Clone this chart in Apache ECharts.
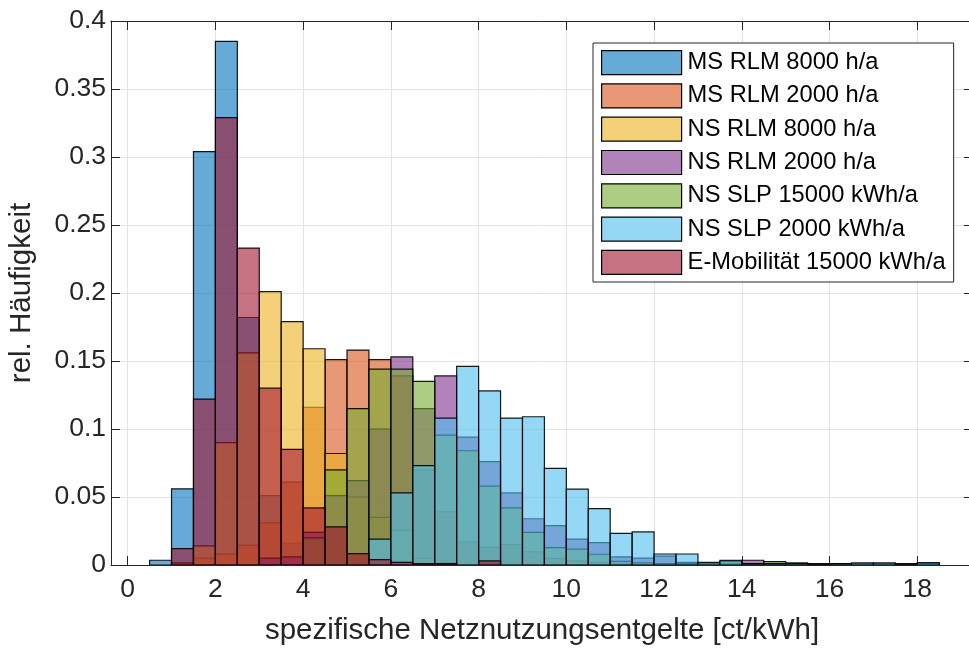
<!DOCTYPE html>
<html>
<head>
<meta charset="utf-8">
<script src="https://cdn.jsdelivr.net/npm/echarts@6/dist/echarts.min.js"></script>
<style>html,body{margin:0;padding:0;background:#fff;}#c{width:969px;height:648px;}</style>
</head>
<body>
<div id="c"></div>
<script>
// bin left edges (bin width 0.5 ct/kWh)
const binStarts = [0.5,1.0,1.5,2.0,2.5,3.0,3.5,4.0,4.5,5.0,5.5,6.0,6.5,7.0,7.5,8.0,8.5,9.0,9.5,10.0,10.5,11.0,11.5,12.0,12.5,13.0,13.5,14.0,14.5,15.0,15.5,16.0,16.5,17.0,17.5,18.0];
const binWidth = 0.5;
const xTicks = [0,2,4,6,8,10,12,14,16,18];

const seriesNames = ['MS RLM 8000 h/a','MS RLM 2000 h/a','NS RLM 8000 h/a','NS RLM 2000 h/a','NS SLP 15000 kWh/a','NS SLP 2000 kWh/a','E-Mobilität 15000 kWh/a'];

const msRlm8000 = [0.0035,0.056,0.304,0.385,0.182,0.051,0.016,0.002,0,0,0,0,0,0,0,0,0,0,0,0,0,0,0,0,0,0,0.001,0,0,0,0,0,0,0,0,0.0015];
const msRlm2000 = [0,0.0015,0.005,0.008,0.0145,0.031,0.061,0.116,0.151,0.158,0.151,0.139,0.07,0.039,0.017,0.013,0.015,0.0096,0.0047,0.003,0.002,0.001,0,0,0,0,0,0,0,0,0,0,0,0,0,0];
const nsRlm8000 = [0,0,0.014,0.090,0.156,0.201,0.179,0.159,0.082,0.050,0.035,0.0255,0.005,0.002,0,0,0,0,0,0,0,0,0,0,0,0,0,0,0,0,0,0,0,0,0,0];
const nsRlm2000 = [0,0,0,0,0,0.005,0.006,0.024,0.051,0.062,0.100,0.153,0.115,0.139,0.094,0.076,0.053,0.034,0.029,0.019,0.0165,0.006,0.005,0.0065,0.002,0.001,0.001,0.0035,0.001,0,0,0,0,0,0,0];
const nsSlp15000 = [0,0,0,0,0,0,0,0.020,0.070,0.115,0.144,0.144,0.135,0.0955,0.084,0.058,0.042,0.024,0.0128,0.0116,0.0079,0.0027,0.0015,0.001,0.001,0.001,0.0025,0.001,0.0025,0.0015,0.001,0.001,0.001,0.001,0.001,0];
const nsSlp2000 = [0,0,0,0,0,0,0,0,0,0,0.019,0.053,0.073,0.108,0.146,0.128,0.108,0.109,0.071,0.0558,0.0415,0.0233,0.0243,0.0081,0.0081,0.002,0.0034,0.001,0.001,0.001,0.0005,0.001,0.0015,0.0015,0.0005,0.0015];
const eMob15000 = [0,0.012,0.122,0.329,0.233,0.130,0.085,0.042,0.028,0.0084,0.004,0.002,0.001,0.001,0,0.003,0,0,0,0,0,0,0,0,0,0,0,0,0,0,0,0,0,0,0,0];

const seriesValues = [msRlm8000, msRlm2000, nsRlm8000, nsRlm2000, nsSlp15000, nsSlp2000, eMob15000];
const baseColors = [[0,114,189],[217,83,25],[237,177,32],[126,47,142],[119,172,48],[77,190,238],[162,20,47]];
const alpha = 0.6;

const textColor = '#262626';
const fontFam = '"Liberation Sans", Arial, Helvetica, sans-serif';
const chart = echarts.init(document.getElementById('c'));

function histSeries(name, values, rgb) {
  const fill = 'rgba(' + rgb.join(',') + ',' + alpha + ')';
  return {
    type: 'custom',
    name: name,
    xAxisIndex: 0,
    yAxisIndex: 0,
    clip: true,
    itemStyle: { color: fill, borderColor: '#000', borderWidth: 1 },
    encode: { x: [0, 1], y: 2 },
    data: values.map((v, i) => [binStarts[i], binStarts[i] + binWidth, v]),
    renderItem: function (params, api) {
      const v = api.value(2);
      if (!v) return null;
      const p0 = api.coord([api.value(0), v]);
      const p1 = api.coord([api.value(1), 0]);
      return {
        type: 'rect',
        shape: { x: p0[0], y: p0[1], width: p1[0] - p0[0], height: p1[1] - p0[1] },
        style: { fill: fill, stroke: 'rgba(0,0,0,0.9)', lineWidth: 1.2 }
      };
    }
  };
}

const series = seriesNames.map((n, i) => histSeries(n, seriesValues[i], baseColors[i]));

const gridLineColor = '#e3e3e3';
const axisLineStyle = { color: textColor, width: 1 };
const xMin = -0.38, xMax = 19.27;

chart.setOption({
  animation: false,
  backgroundColor: '#fff',
  grid: { left: 111, top: 21, width: 862, height: 544, containLabel: false, outerBoundsMode: 'none' },
  legend: {
    orient: 'vertical',
    left: 593,
    top: 43,
    padding: [7, 8, 7, 8],
    itemGap: 8.1,
    itemWidth: 80,
    itemHeight: 24,
    icon: 'rect',
    backgroundColor: '#fff',
    borderColor: textColor,
    borderWidth: 1,
    textStyle: { fontFamily: fontFam, fontSize: 23.7, lineHeight: 24, color: '#000', padding: [0, 0, 0, 1] },
    data: seriesNames.map((n, i) => ({ name: n, itemStyle: { color: 'rgba(' + baseColors[i].join(',') + ',' + alpha + ')', borderColor: '#000', borderWidth: 1.2 } }))
  },
  xAxis: [
    {
      type: 'value', min: xMin, max: xMax,
      position: 'bottom',
      name: 'spezifische Netznutzungsentgelte [ct/kWh]',
      nameLocation: 'middle', nameGap: 51,
      nameTextStyle: { fontFamily: fontFam, fontSize: 29.5, color: textColor },
      axisLine: { show: true, onZero: false, lineStyle: axisLineStyle },
      axisTick: { show: true, inside: true, length: 9, customValues: xTicks, lineStyle: axisLineStyle },
      axisLabel: { customValues: xTicks, fontFamily: fontFam, fontSize: 26.5, color: textColor, margin: 11 },
      splitLine: { show: true, lineStyle: { color: gridLineColor, width: 1 } }
    },
    {
      type: 'value', min: xMin, max: xMax,
      position: 'top',
      axisLine: { show: true, onZero: false, lineStyle: axisLineStyle },
      axisTick: { show: true, inside: true, length: 9, customValues: xTicks, lineStyle: axisLineStyle },
      axisLabel: { show: false },
      splitLine: { show: false }
    }
  ],
  yAxis: [
    {
      type: 'value', min: 0, max: 0.4, interval: 0.05,
      position: 'left',
      name: 'rel. Häufigkeit',
      nameLocation: 'middle', nameGap: 74,
      nameTextStyle: { fontFamily: fontFam, fontSize: 29.5, color: textColor },
      axisLine: { show: true, onZero: false, lineStyle: axisLineStyle },
      axisTick: { show: true, inside: true, length: 9, lineStyle: axisLineStyle },
      axisLabel: { fontFamily: fontFam, fontSize: 26.5, color: textColor, margin: 5 },
      splitLine: { show: true, lineStyle: { color: gridLineColor, width: 1 } }
    },
    {
      type: 'value', min: 0, max: 0.4, interval: 0.05,
      position: 'right',
      axisLine: { show: true, onZero: false, lineStyle: axisLineStyle },
      axisTick: { show: true, inside: true, length: 9, lineStyle: axisLineStyle },
      axisLabel: { show: false },
      splitLine: { show: false }
    }
  ],
  series: series
});
</script>
</body>
</html>
